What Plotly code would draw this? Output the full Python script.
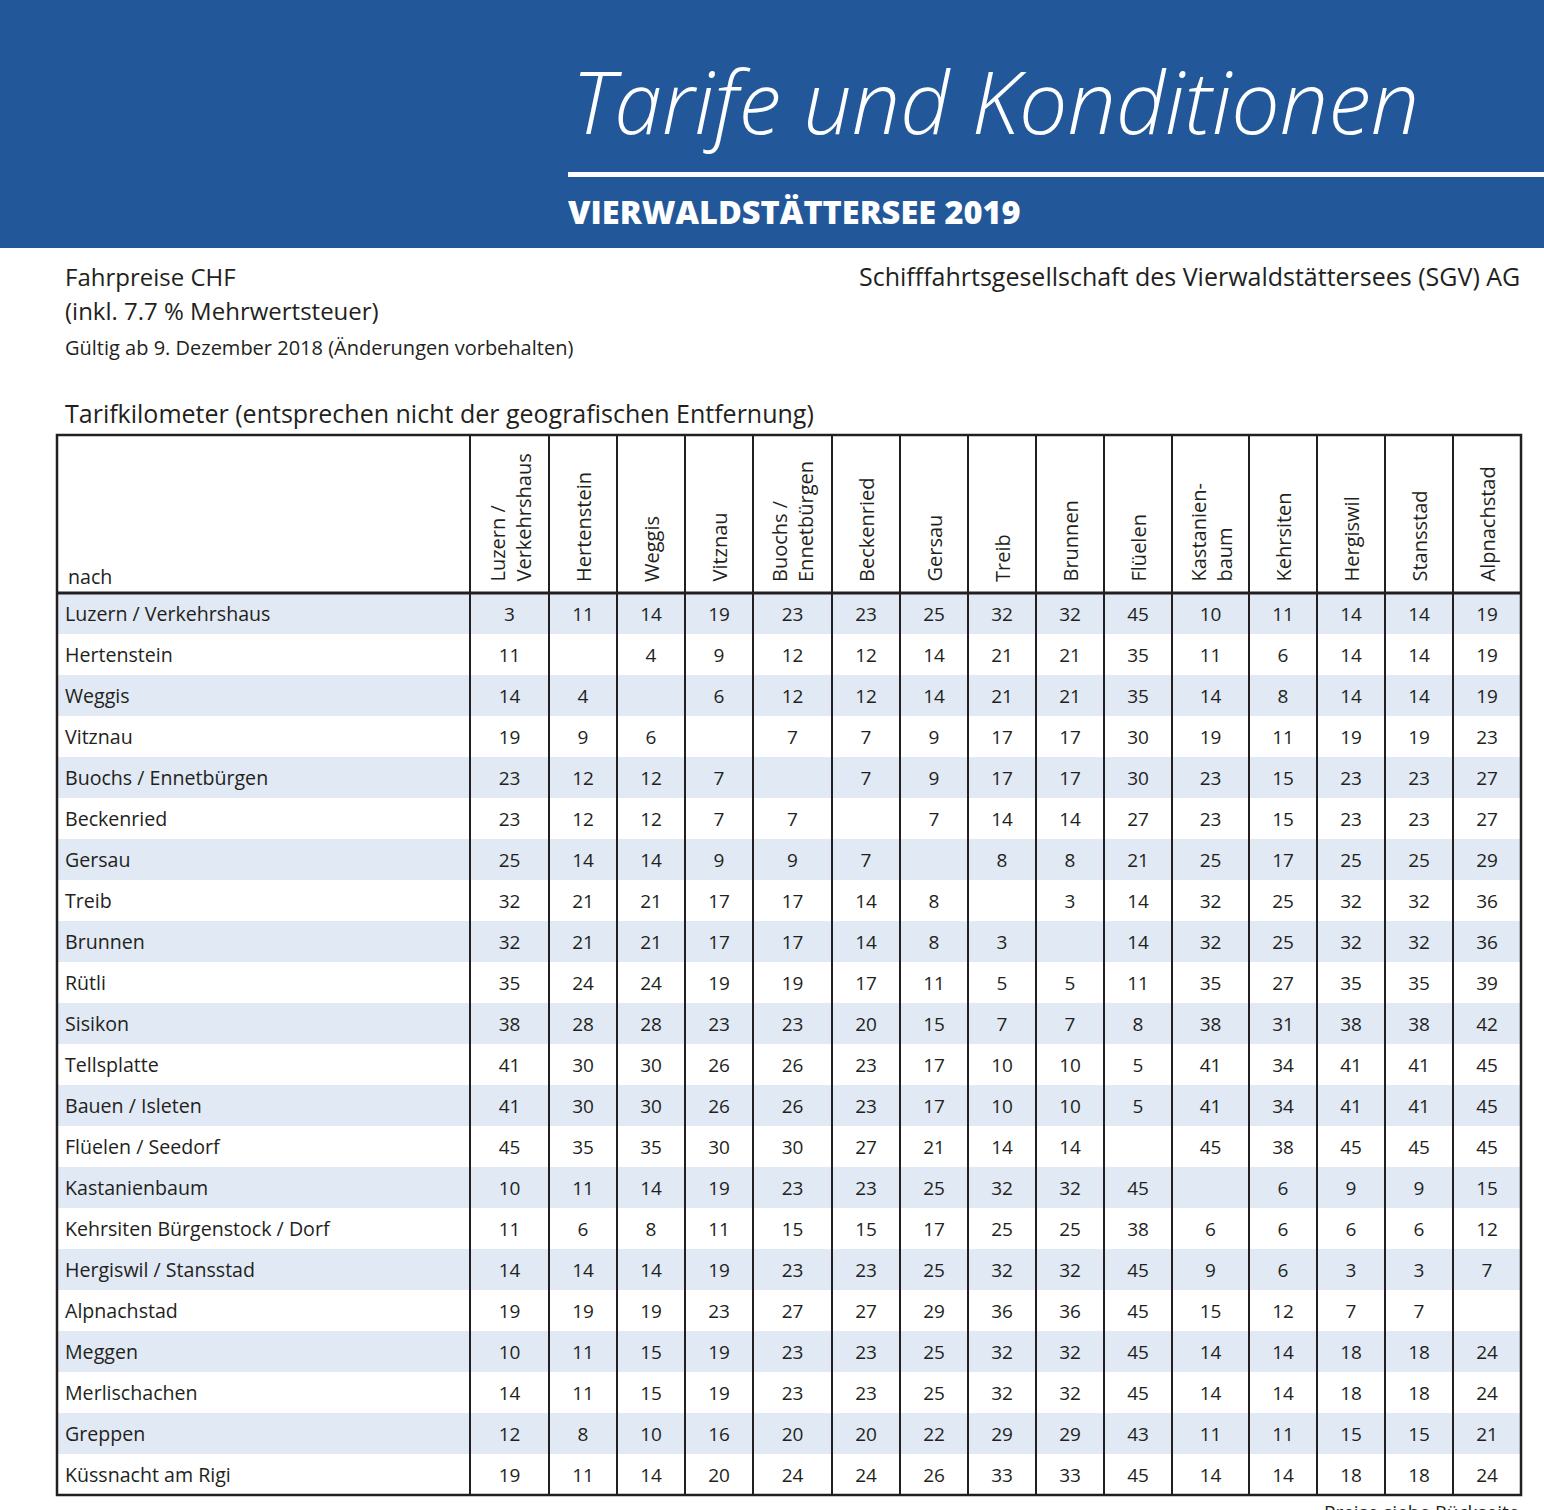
import plotly.graph_objects as go

# header texts
title = "Tarife und Konditionen"
subtitle = "VIERWALDSTÄTTERSEE 2019"
info_lines = ["Fahrpreise CHF", "(inkl. 7.7 % Mehrwertsteuer)"]
valid_note = "Gültig ab 9. Dezember 2018 (Änderungen vorbehalten)"
company = "Schifffahrtsgesellschaft des Vierwaldstättersees (SGV) AG"
table_title = "Tarifkilometer (entsprechen nicht der geografischen Entfernung)"
footer = "Preise siehe Rückseite"

# columns: departure stations (von)
von = ["Luzern /<br>Verkehrshaus", "Hertenstein", "Weggis", "Vitznau",
       "Buochs /<br>Ennetbürgen", "Beckenried", "Gersau", "Treib", "Brunnen",
       "Flüelen", "Kastanien-<br>baum", "Kehrsiten", "Hergiswil", "Stansstad",
       "Alpnachstad"]

# rows: destinations (nach)
nach = ["Luzern / Verkehrshaus", "Hertenstein", "Weggis", "Vitznau",
        "Buochs / Ennetbürgen", "Beckenried", "Gersau", "Treib", "Brunnen",
        "Rütli", "Sisikon", "Tellsplatte", "Bauen / Isleten", "Flüelen / Seedorf",
        "Kastanienbaum", "Kehrsiten Bürgenstock / Dorf", "Hergiswil / Stansstad",
        "Alpnachstad", "Meggen", "Merlischachen", "Greppen", "Küssnacht am Rigi"]

# tariff kilometres per destination row (None = no entry)
km_luzern = [3, 11, 14, 19, 23, 23, 25, 32, 32, 45, 10, 11, 14, 14, 19]
km_hertenstein = [11, None, 4, 9, 12, 12, 14, 21, 21, 35, 11, 6, 14, 14, 19]
km_weggis = [14, 4, None, 6, 12, 12, 14, 21, 21, 35, 14, 8, 14, 14, 19]
km_vitznau = [19, 9, 6, None, 7, 7, 9, 17, 17, 30, 19, 11, 19, 19, 23]
km_buochs = [23, 12, 12, 7, None, 7, 9, 17, 17, 30, 23, 15, 23, 23, 27]
km_beckenried = [23, 12, 12, 7, 7, None, 7, 14, 14, 27, 23, 15, 23, 23, 27]
km_gersau = [25, 14, 14, 9, 9, 7, None, 8, 8, 21, 25, 17, 25, 25, 29]
km_treib = [32, 21, 21, 17, 17, 14, 8, None, 3, 14, 32, 25, 32, 32, 36]
km_brunnen = [32, 21, 21, 17, 17, 14, 8, 3, None, 14, 32, 25, 32, 32, 36]
km_ruetli = [35, 24, 24, 19, 19, 17, 11, 5, 5, 11, 35, 27, 35, 35, 39]
km_sisikon = [38, 28, 28, 23, 23, 20, 15, 7, 7, 8, 38, 31, 38, 38, 42]
km_tellsplatte = [41, 30, 30, 26, 26, 23, 17, 10, 10, 5, 41, 34, 41, 41, 45]
km_bauen = [41, 30, 30, 26, 26, 23, 17, 10, 10, 5, 41, 34, 41, 41, 45]
km_flueelen = [45, 35, 35, 30, 30, 27, 21, 14, 14, None, 45, 38, 45, 45, 45]
km_kastanienbaum = [10, 11, 14, 19, 23, 23, 25, 32, 32, 45, None, 6, 9, 9, 15]
km_kehrsiten = [11, 6, 8, 11, 15, 15, 17, 25, 25, 38, 6, 6, 6, 6, 12]
km_hergiswil = [14, 14, 14, 19, 23, 23, 25, 32, 32, 45, 9, 6, 3, 3, 7]
km_alpnachstad = [19, 19, 19, 23, 27, 27, 29, 36, 36, 45, 15, 12, 7, 7, None]
km_meggen = [10, 11, 15, 19, 23, 23, 25, 32, 32, 45, 14, 14, 18, 18, 24]
km_merlischachen = [14, 11, 15, 19, 23, 23, 25, 32, 32, 45, 14, 14, 18, 18, 24]
km_greppen = [12, 8, 10, 16, 20, 20, 22, 29, 29, 43, 11, 11, 15, 15, 21]
km_kuessnacht = [19, 11, 14, 20, 24, 24, 26, 33, 33, 45, 14, 14, 18, 18, 24]

km_rows = [km_luzern, km_hertenstein, km_weggis, km_vitznau, km_buochs,
           km_beckenried, km_gersau, km_treib, km_brunnen, km_ruetli, km_sisikon,
           km_tellsplatte, km_bauen, km_flueelen, km_kastanienbaum, km_kehrsiten,
           km_hergiswil, km_alpnachstad, km_meggen, km_merlischachen, km_greppen,
           km_kuessnacht]

# ---- layout geometry (pixels) ----
W, H = 1544, 1510
BLUE = "#22589A"
STRIPE = "#E1E9F4"
INK = "#231F20"
LABEL_FONT = "Open Sans, Noto Sans, sans-serif"
NUM_FONT = "Open Sans, sans-serif"

tbl_left, tbl_right = 57, 1521
tbl_top, head_bottom = 435, 593
row_h = 41
text_shift = 3  # nudge text down to sit visually centred in a row
first_col_right = 470
col_widths = [79, 68, 68, 68, 79, 68, 68, 68, 68, 68, 77, 68, 68, 68, 68]

col_edges = [first_col_right]
for w in col_widths:
    col_edges.append(col_edges[-1] + w)
col_centers = [(a + b) / 2 for a, b in zip(col_edges[:-1], col_edges[1:])]
row_centers = [head_bottom + row_h * (i + 0.5) for i in range(len(nach))]
tbl_bottom = head_bottom + row_h * len(nach)

shapes = []
# blue banner
shapes.append(dict(type="rect", xref="x", yref="y", x0=0, x1=W, y0=0, y1=248,
                   fillcolor=BLUE, line_width=0, layer="below"))
shapes.append(dict(type="rect", xref="x", yref="y", x0=568, x1=W, y0=172, y1=177,
                   fillcolor="white", line_width=0))
# zebra stripes
for i in range(0, len(nach), 2):
    shapes.append(dict(type="rect", xref="x", yref="y", x0=tbl_left, x1=tbl_right,
                       y0=head_bottom + row_h * i, y1=head_bottom + row_h * (i + 1),
                       fillcolor=STRIPE, line_width=0, layer="below"))
# vertical grid lines
for xe in col_edges[:-1]:
    shapes.append(dict(type="line", xref="x", yref="y", x0=xe, x1=xe,
                       y0=tbl_top, y1=tbl_bottom, line=dict(color=INK, width=2)))
# header bottom line
shapes.append(dict(type="line", xref="x", yref="y", x0=tbl_left, x1=tbl_right,
                   y0=head_bottom, y1=head_bottom, line=dict(color=INK, width=3)))
# outer border
shapes.append(dict(type="rect", xref="x", yref="y", x0=tbl_left, x1=tbl_right,
                   y0=tbl_top, y1=tbl_bottom, line=dict(color=INK, width=2.5)))

fig = go.Figure()

# numbers
xs, ys, txt = [], [], []
for r, row in enumerate(km_rows):
    for c, v in enumerate(row):
        if v is None:
            continue
        xs.append(col_centers[c])
        ys.append(row_centers[r] + text_shift)
        txt.append(str(v))
fig.add_trace(go.Scatter(x=xs, y=ys, text=txt, mode="text",
                         textposition="middle center",
                         textfont=dict(family=NUM_FONT, size=19, color=INK),
                         hoverinfo="skip", showlegend=False))

# row labels
fig.add_trace(go.Scatter(x=[65] * len(nach), y=[y + text_shift for y in row_centers],
                         text=nach, mode="text", textposition="middle right",
                         textfont=dict(family=LABEL_FONT, size=19.6, color=INK),
                         hoverinfo="skip", showlegend=False))

annotations = []
# rotated column headers
for c, name in enumerate(von):
    annotations.append(dict(x=col_centers[c], y=584, xref="x", yref="y",
                            text=name, textangle=-90, showarrow=False,
                            xanchor="center", yanchor="bottom", align="left",
                            font=dict(family=LABEL_FONT, size=20, color=INK)))
annotations.append(dict(x=66, y=576, xref="x", yref="y", text="nach", showarrow=False,
                        xanchor="left", yanchor="middle",
                        font=dict(family=LABEL_FONT, size=19.6, color=INK)))

# banner texts
annotations.append(dict(x=570, y=100, xref="x", yref="y", text=title, showarrow=False,
                        xanchor="left", yanchor="middle",
                        font=dict(family="Open Sans, sans-serif", size=86, color="white",
                                  style="italic", weight=300)))
annotations.append(dict(x=566, y=211, xref="x", yref="y", text=subtitle, showarrow=False,
                        xanchor="left", yanchor="middle",
                        font=dict(family="Open Sans, sans-serif", size=32.5, color="white",
                                  weight=800)))

# info texts
annotations.append(dict(x=63, y=276, xref="x", yref="y", text=info_lines[0], showarrow=False,
                        xanchor="left", yanchor="middle",
                        font=dict(family=LABEL_FONT, size=24, color=INK)))
annotations.append(dict(x=63, y=310, xref="x", yref="y", text=info_lines[1], showarrow=False,
                        xanchor="left", yanchor="middle",
                        font=dict(family=LABEL_FONT, size=24, color=INK)))
annotations.append(dict(x=63, y=347, xref="x", yref="y", text=valid_note, showarrow=False,
                        xanchor="left", yanchor="middle",
                        font=dict(family=LABEL_FONT, size=20, color=INK)))
annotations.append(dict(x=1522, y=276, xref="x", yref="y", text=company, showarrow=False,
                        xanchor="right", yanchor="middle",
                        font=dict(family=LABEL_FONT, size=25, color=INK)))
annotations.append(dict(x=63, y=413, xref="x", yref="y", text=table_title, showarrow=False,
                        xanchor="left", yanchor="middle",
                        font=dict(family=LABEL_FONT, size=25, color=INK)))
# footer note sits below the table and runs off the page edge, as in the source
annotations.append(dict(x=1522, y=1497, xref="x", yref="y", text=footer, showarrow=False,
                        xanchor="right", yanchor="top",
                        font=dict(family=LABEL_FONT, size=19, color=INK)))

fig.update_layout(
    width=W, height=H,
    margin=dict(l=0, r=0, t=0, b=0),
    paper_bgcolor="white", plot_bgcolor="white",
    xaxis=dict(range=[0, W], visible=False, fixedrange=True),
    yaxis=dict(range=[H, 0], visible=False, fixedrange=True),
    shapes=shapes, annotations=annotations,
    showlegend=False,
)

# drop the browser's default page margin so the banner reaches the edges
fig.write_html("out.html", config={"displayModeBar": False},
               post_script="document.body.style.margin = '0px';")
